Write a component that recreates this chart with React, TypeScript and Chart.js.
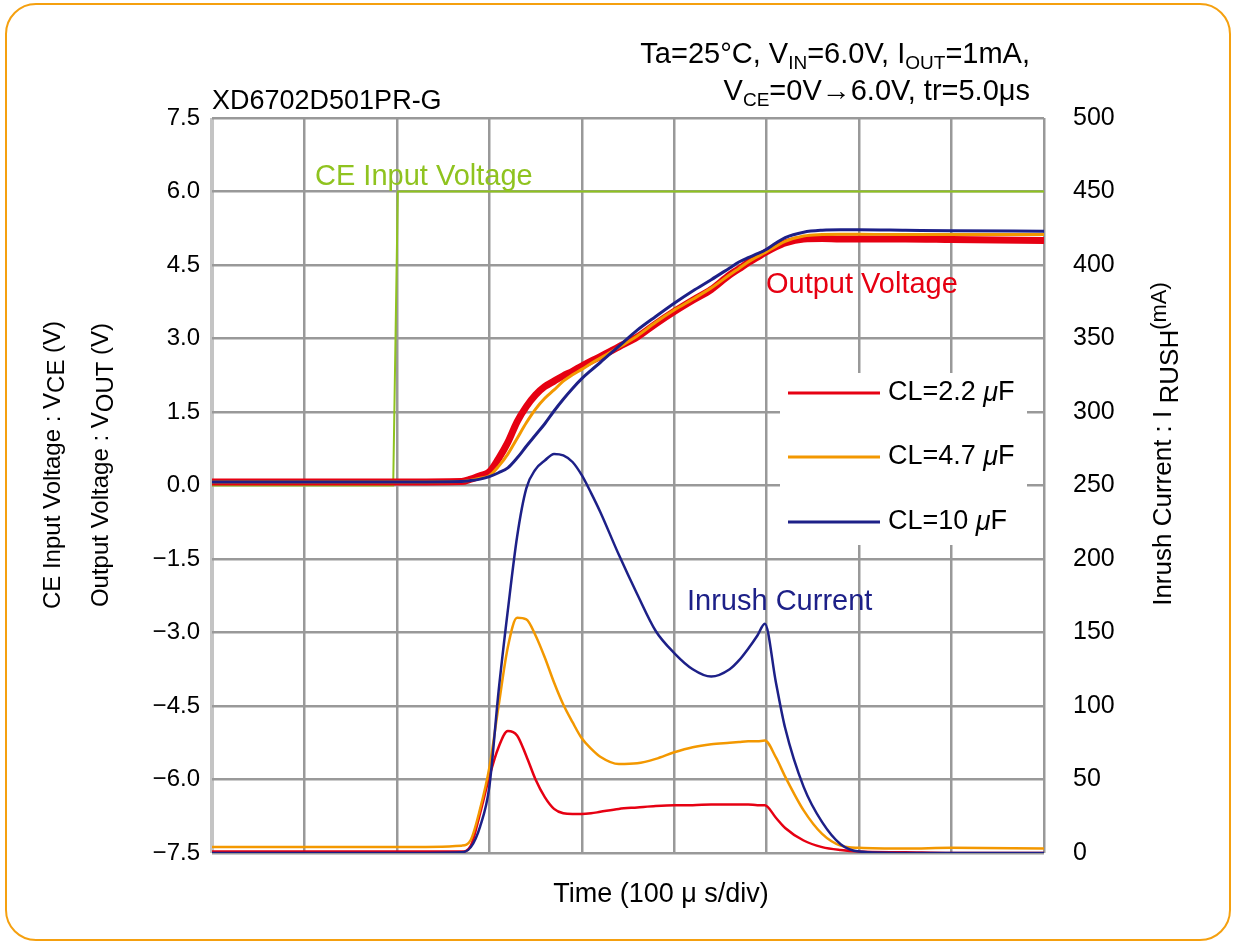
import React, { useEffect, useRef } from 'react';
import { Chart, registerables } from 'chart.js';
Chart.register(...registerables);

// ---- data ----
const timeUs = [0, 100, 200, 270, 280, 290, 300, 310, 320, 330, 340, 350, 360, 370, 380, 390, 400, 410, 420, 440, 460, 480, 500, 520, 540, 560, 570, 580, 590, 598, 610, 620, 640, 660, 680, 700, 750, 800, 900];

const ceTimeUs = [0, 196, 201, 900];
const ceVoltage = [0, 0, 6.0, 6.0];

const vout22 = [0.07, 0.07, 0.07, 0.08, 0.13, 0.2, 0.28, 0.55, 0.88, 1.3, 1.61, 1.85, 2.02, 2.13, 2.24, 2.33, 2.44, 2.54, 2.63, 2.83, 3.03, 3.3, 3.55, 3.78, 4.0, 4.3, 4.42, 4.55, 4.66, 4.75, 4.87, 4.95, 5.03, 5.04, 5.03, 5.03, 5.03, 5.02, 5.0];
const vout47 = [0.07, 0.07, 0.07, 0.08, 0.11, 0.15, 0.2, 0.39, 0.64, 0.96, 1.28, 1.56, 1.78, 1.95, 2.13, 2.26, 2.37, 2.49, 2.6, 2.82, 3.05, 3.33, 3.58, 3.8, 4.03, 4.3, 4.43, 4.56, 4.67, 4.75, 4.88, 4.98, 5.09, 5.12, 5.13, 5.13, 5.12, 5.12, 5.12];
const vout10 = [0.07, 0.07, 0.07, 0.08, 0.1, 0.13, 0.18, 0.26, 0.36, 0.56, 0.8, 1.03, 1.26, 1.52, 1.76, 1.98, 2.18, 2.35, 2.51, 2.84, 3.17, 3.45, 3.72, 3.97, 4.2, 4.44, 4.56, 4.65, 4.73, 4.8, 4.95, 5.06, 5.17, 5.21, 5.22, 5.22, 5.21, 5.2, 5.19];

const irush22 = [1, 1, 1, 1, 5, 27, 52, 72, 83, 80, 66, 50, 38, 30, 27, 26.5, 26.5, 27, 28, 30, 31, 32, 32.5, 32.5, 33, 33, 33, 33, 32.5, 32.5, 24, 17, 8.5, 4, 2, 1, 0.5, 0, 0];
const irush47 = [4, 4, 4, 5, 9, 30, 58, 100, 140, 160, 159, 148, 133, 116, 101, 89, 78, 71, 65.5, 60.5, 61, 64, 68.5, 72, 74, 75, 75.5, 76, 76, 76.5, 65, 52, 29, 13, 5, 3.5, 3, 3.5, 3];
const irush10 = [0, 0, 0, 0.5, 4, 18, 45, 110, 165, 215, 248, 261, 267, 271.5, 270.5, 266, 257, 245, 232, 203, 176, 151, 136, 125, 120, 125, 131, 139, 148, 156, 116, 85, 45, 21, 6, 1, 0, 0, 0];

const legendLabels = ['CL=2.2 ', 'CL=4.7 ', 'CL=10 '];

const RED = '#e60012';
const ORANGE = '#f39800';
const BLUE = '#1d2088';
const GREEN = '#8fc31f';
const FONT = '"Liberation Sans", Arial, sans-serif';

type Part = { t: string; size: number; dy?: number; italic?: boolean };

function drawParts(ctx: CanvasRenderingContext2D, parts: Part[], x: number, y: number, align: 'left' | 'right' | 'center') {
  let total = 0;
  for (const p of parts) {
    ctx.font = `${p.italic ? 'italic ' : ''}${p.size}px ${FONT}`;
    total += ctx.measureText(p.t).width;
  }
  let cx = align === 'left' ? x : align === 'right' ? x - total : x - total / 2;
  ctx.textAlign = 'left';
  for (const p of parts) {
    ctx.font = `${p.italic ? 'italic ' : ''}${p.size}px ${FONT}`;
    ctx.fillText(p.t, cx, y + (p.dy || 0));
    cx += ctx.measureText(p.t).width;
  }
}

const decorPlugin = {
  id: 'decor',
  beforeDraw(chart: any) {
    const ctx: CanvasRenderingContext2D = chart.ctx;
    ctx.save();
    ctx.fillStyle = '#fff';
    ctx.fillRect(0, 0, chart.width, chart.height);
    ctx.strokeStyle = '#f5a00f';
    ctx.lineWidth = 2;
    ctx.beginPath();
    (ctx as any).roundRect(6, 4, 1224, 936, 30);
    ctx.stroke();
    ctx.restore();
  },
  afterDraw(chart: any) {
    const ctx: CanvasRenderingContext2D = chart.ctx;
    ctx.save();
    ctx.fillStyle = '#000';
    ctx.textBaseline = 'alphabetic';
    drawParts(ctx, [
      { t: 'Ta=25°C, V', size: 29 }, { t: 'IN', size: 19, dy: 6 },
      { t: '=6.0V, I', size: 29 }, { t: 'OUT', size: 19, dy: 6 }, { t: '=1mA,', size: 29 },
    ], 1030, 63, 'right');
    drawParts(ctx, [
      { t: 'V', size: 29 }, { t: 'CE', size: 19, dy: 6 }, { t: '=0V→6.0V, tr=5.0μs', size: 29 },
    ], 1030, 100, 'right');
    drawParts(ctx, [{ t: 'XD6702D501PR-G', size: 27 }], 212, 109, 'left');

    // annotations
    ctx.fillStyle = GREEN;
    drawParts(ctx, [{ t: 'CE Input Voltage', size: 29 }], 315, 185, 'left');
    ctx.fillStyle = RED;
    drawParts(ctx, [{ t: 'Output Voltage', size: 29 }], 766, 293, 'left');
    ctx.fillStyle = BLUE;
    drawParts(ctx, [{ t: 'Inrush Current', size: 29 }], 687, 610, 'left');

    // axis titles
    ctx.fillStyle = '#000';
    ctx.textBaseline = 'middle';
    drawParts(ctx, [{ t: 'Time (100 μ s/div)', size: 27 }], 661, 895, 'center');

    ctx.save();
    ctx.translate(53, 465);
    ctx.rotate(-Math.PI / 2);
    drawParts(ctx, [{ t: 'CE Input Voltage : V', size: 24 }, { t: 'CE', size: 24, dy: 4 }, { t: ' (V)', size: 24 }], 0, 0, 'center');
    ctx.restore();
    ctx.save();
    ctx.translate(101, 465);
    ctx.rotate(-Math.PI / 2);
    drawParts(ctx, [{ t: 'Output Voltage : V', size: 24 }, { t: 'OUT', size: 24, dy: 5 }, { t: ' (V)', size: 24 }], 0, 0, 'center');
    ctx.restore();
    ctx.save();
    ctx.translate(1164, 444);
    ctx.rotate(-Math.PI / 2);
    drawParts(ctx, [{ t: 'Inrush Current : I', size: 26 }, { t: ' RUSH', size: 26, dy: 7 }, { t: '(mA)', size: 22, dy: -4 }], 0, 0, 'center');
    ctx.restore();

    // legend
    ctx.fillStyle = '#fff';
    ctx.fillRect(780, 373, 247, 172);
    const cols = [RED, ORANGE, BLUE];
    const ys = [393, 457, 522];
    for (let i = 0; i < 3; i++) {
      ctx.strokeStyle = cols[i];
      ctx.lineWidth = 3;
      ctx.beginPath();
      ctx.moveTo(788, ys[i]);
      ctx.lineTo(880, ys[i]);
      ctx.stroke();
      ctx.fillStyle = '#000';
      drawParts(ctx, [{ t: legendLabels[i], size: 27 }, { t: 'μ', size: 27, italic: true }, { t: 'F', size: 27 }], 888, ys[i], 'left');
    }
    ctx.restore();
  },
};

function pts(xs: number[], ys: number[]) {
  return xs.map((x, i) => ({ x, y: ys[i] }));
}

export default function App() {
  const ref = useRef<HTMLCanvasElement>(null);
  useEffect(() => {
    const canvas = ref.current!;
    const line = (data: any, color: string, axis: string, width: number, order: number) => ({
      data, borderColor: color, backgroundColor: color, borderWidth: width, pointRadius: 0,
      yAxisID: axis, order, cubicInterpolationMode: 'monotone' as const, fill: false,
    });
    const chart = new Chart(canvas, {
      type: 'line',
      data: {
        datasets: [
          { ...line(pts(ceTimeUs, ceVoltage), GREEN, 'yL', 2, 9), cubicInterpolationMode: 'default', tension: 0 },
          line(pts(timeUs, vout10), BLUE, 'yL', 3, 1),
          line(pts(timeUs, vout47), ORANGE, 'yL', 3, 2),
          line(pts(timeUs, vout22), RED, 'yL', 7, 3),
          line(pts(timeUs, irush10), BLUE, 'yR', 2.5, 1),
          line(pts(timeUs, irush47), ORANGE, 'yR', 2.5, 2),
          line(pts(timeUs, irush22), RED, 'yR', 2.5, 3),
        ] as any,
      },
      plugins: [decorPlugin],
      options: {
        responsive: false,
        animation: false,
        devicePixelRatio: 1,
        layout: { padding: { top: 118, left: 0, right: 0, bottom: 0 } },
        plugins: { legend: { display: false }, tooltip: { enabled: false } },
        scales: {
          x: {
            type: 'linear', min: 0, max: 900,
            ticks: { stepSize: 100, display: false },
            grid: {
              drawTicks: false,
              color: (c: any) => (c.index === 0 ? '#c4c4c4' : '#999999'),
              lineWidth: (c: any) => (c.index === 0 ? 4 : 2.5),
            },
            border: { display: false },
            afterFit: (s: any) => { s.height = 89; },
          },
          yL: {
            type: 'linear', position: 'left', min: -7.5, max: 7.5,
            ticks: {
              stepSize: 1.5, padding: 12, color: '#000', font: { size: 24, family: FONT },
              callback: (v: any) => { const s = Number(v).toFixed(1); return s === '-0.0' ? '0.0' : s.replace('-', '−'); },
            },
            grid: { drawTicks: false, color: '#999999', lineWidth: 2.5 },
            border: { display: false },
            afterFit: (s: any) => { s.width = 212; },
          },
          yR: {
            type: 'linear', position: 'right', min: 0, max: 500,
            ticks: { stepSize: 50, padding: 29, color: '#000', font: { size: 25, family: FONT } },
            grid: { display: false, drawTicks: false },
            border: { display: false },
            afterFit: (s: any) => { s.width = 192; },
          },
        },
      } as any,
    });
    return () => chart.destroy();
  }, []);
  return (
    <canvas
      ref={ref}
      width={1236}
      height={942}
      style={{ position: 'absolute', left: 0, top: 0, width: 1236, height: 942 }}
    />
  );
}
